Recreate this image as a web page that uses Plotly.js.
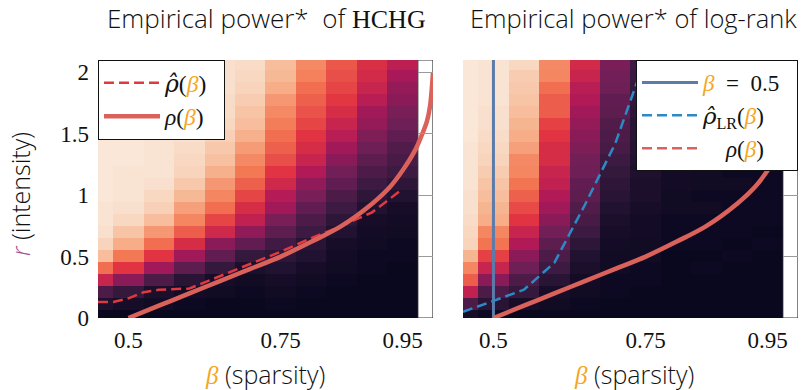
<!DOCTYPE html>
<html>
<head>
<meta charset="utf-8">
<script src="https://cdn.plot.ly/plotly-3.0.1.min.js"></script>
<style>html,body{margin:0;padding:0;background:#fff;}#chart{width:804px;height:390px;}</style>
</head>
<body>
<div id="chart"></div>
<script>
// ---- data ----
var betaCols = [0.45, 0.5, 0.55, 0.6, 0.65, 0.7, 0.75, 0.8, 0.85, 0.9, 0.95];
var rRows = [0.02, 0.1175, 0.215, 0.3125, 0.41, 0.5075, 0.605, 0.7025, 0.8, 0.8975, 0.995,
             1.0925, 1.19, 1.2875, 1.385, 1.4825, 1.58, 1.6775, 1.775, 1.8725, 1.97, 2.0675];

// empirical power, one array per beta column (bottom row first)
var hchgPower = [
  [0.02,0.08,0.20,0.50,0.70,0.88,0.94,0.97,0.98,0.98,0.99,0.99,0.99,0.99,0.99,0.99,0.99,0.99,0.99,0.99,0.99,0.99],
  [0.02,0.06,0.14,0.35,0.57,0.72,0.84,0.90,0.95,0.97,0.98,0.98,0.98,0.99,0.99,0.99,0.99,0.99,0.99,0.99,0.99,0.99],
  [0.02,0.04,0.07,0.20,0.40,0.57,0.70,0.79,0.88,0.93,0.95,0.97,0.98,0.98,0.98,0.98,0.99,0.99,0.99,0.99,0.99,0.99],
  [0.02,0.03,0.05,0.11,0.24,0.40,0.54,0.66,0.75,0.81,0.87,0.91,0.94,0.95,0.96,0.97,0.97,0.97,0.98,0.98,0.98,0.98],
  [0.02,0.02,0.04,0.06,0.14,0.25,0.35,0.52,0.61,0.70,0.75,0.79,0.85,0.89,0.91,0.93,0.95,0.96,0.96,0.97,0.97,0.97],
  [0.02,0.02,0.03,0.04,0.07,0.14,0.25,0.36,0.48,0.54,0.61,0.67,0.72,0.76,0.80,0.85,0.88,0.90,0.92,0.94,0.95,0.96],
  [0.02,0.03,0.04,0.06,0.09,0.12,0.17,0.24,0.31,0.40,0.45,0.52,0.57,0.63,0.67,0.70,0.73,0.76,0.79,0.84,0.87,0.88],
  [0.02,0.02,0.03,0.04,0.06,0.09,0.11,0.16,0.20,0.25,0.31,0.36,0.44,0.50,0.54,0.57,0.61,0.64,0.67,0.70,0.74,0.76],
  [0.02,0.02,0.02,0.03,0.04,0.05,0.06,0.09,0.12,0.16,0.20,0.25,0.29,0.35,0.40,0.46,0.50,0.54,0.58,0.61,0.63,0.65],
  [0.02,0.02,0.02,0.02,0.03,0.03,0.04,0.05,0.06,0.09,0.12,0.16,0.20,0.24,0.28,0.32,0.37,0.40,0.46,0.50,0.53,0.55],
  [0.02,0.02,0.02,0.02,0.02,0.03,0.03,0.04,0.05,0.06,0.09,0.12,0.16,0.19,0.21,0.25,0.28,0.31,0.35,0.37,0.42,0.47]
];
var logrankPower = [
  [0.06,0.20,0.48,0.66,0.75,0.86,0.94,0.95,0.96,0.97,0.97,0.98,0.98,0.98,0.98,0.99,0.99,0.99,0.99,0.99,0.99,0.99],
  [0.03,0.11,0.20,0.35,0.50,0.60,0.71,0.75,0.84,0.86,0.88,0.90,0.92,0.94,0.95,0.96,0.97,0.97,0.98,0.98,0.98,0.98],
  [0.02,0.06,0.14,0.20,0.28,0.35,0.44,0.50,0.57,0.62,0.67,0.71,0.75,0.76,0.81,0.84,0.86,0.88,0.90,0.91,0.92,0.95],
  [0.02,0.04,0.06,0.11,0.16,0.20,0.24,0.29,0.35,0.40,0.44,0.48,0.50,0.54,0.54,0.57,0.60,0.66,0.66,0.70,0.75,0.76],
  [0.02,0.03,0.04,0.05,0.07,0.09,0.12,0.16,0.19,0.21,0.24,0.25,0.28,0.29,0.32,0.35,0.37,0.40,0.44,0.46,0.50,0.53],
  [0.02,0.02,0.03,0.03,0.04,0.04,0.05,0.06,0.07,0.09,0.11,0.12,0.14,0.16,0.19,0.20,0.21,0.24,0.25,0.28,0.29,0.31],
  [0.02,0.02,0.02,0.03,0.03,0.04,0.04,0.05,0.05,0.06,0.07,0.07,0.08,0.09,0.10,0.11,0.11,0.12,0.13,0.14,0.15,0.16],
  [0.02,0.02,0.02,0.02,0.02,0.02,0.03,0.03,0.03,0.04,0.04,0.05,0.05,0.06,0.06,0.07,0.07,0.08,0.08,0.09,0.10,0.10],
  [0.02,0.02,0.02,0.02,0.03,0.02,0.03,0.03,0.03,0.04,0.03,0.04,0.04,0.05,0.04,0.05,0.05,0.06,0.05,0.06,0.06,0.06],
  [0.02,0.02,0.02,0.02,0.02,0.03,0.02,0.03,0.03,0.03,0.03,0.04,0.03,0.04,0.04,0.04,0.04,0.05,0.05,0.05,0.05,0.05],
  [0.02,0.02,0.02,0.02,0.02,0.02,0.03,0.02,0.03,0.03,0.03,0.03,0.03,0.04,0.03,0.04,0.04,0.04,0.04,0.05,0.05,0.05]
];

// boundary curves
var rhoBeta = [0.5, 0.55, 0.6, 0.65, 0.7, 0.75, 0.8, 0.85, 0.9, 0.93, 0.95, 0.97, 0.98, 0.99, 0.995, 1.0];
var rhoR    = [0.0, 0.1, 0.2, 0.3, 0.4, 0.5, 0.62, 0.75, 0.93, 1.07, 1.2, 1.36, 1.47, 1.6, 1.72, 2.0];
var rhoHatBeta = [0.45, 0.475, 0.5, 0.525, 0.55, 0.6, 0.65, 0.7, 0.75, 0.8, 0.85, 0.9, 0.95];
var rhoHatR    = [0.13, 0.13, 0.16, 0.21, 0.23, 0.24, 0.34, 0.44, 0.54, 0.65, 0.75, 0.86, 1.05];
var rhoLRBeta = [0.45, 0.5, 0.55, 0.6, 0.65, 0.7, 0.75];
var rhoLRR    = [0.05, 0.14, 0.23, 0.45, 0.92, 1.42, 2.12];
var betaHalfX = [0.5, 0.5];
var betaHalfY = [0, 2.1];

var xTickVals = [0.5, 0.75, 0.95];
var xTickText = ['0.5', '0.75', '0.95'];
var yTickVals = [0, 0.5, 1, 1.5, 2];
var yTickText = ['0', '0.5', '1', '1.5', '2'];

// ---- styling ----
var ORANGE = '#f5a623';
var MAUVE = '#a3508e';
var SERIF = 'Liberation Serif, DejaVu Serif, serif';
var SANS = 'Open Sans, Roboto, sans-serif';
var rocket = [[0,'#03051a'],[0.143,'#35193e'],[0.286,'#701f57'],[0.429,'#ad1759'],
              [0.571,'#e13342'],[0.714,'#f37651'],[0.857,'#f6b48f'],[1,'#faebdd']];

function transpose(cols){
  var out = [];
  for (var i = 0; i < cols[0].length; i++){
    var row = [];
    for (var j = 0; j < cols.length; j++) row.push(cols[j][i]);
    out.push(row);
  }
  return out;
}
var B = '<span style="color:' + ORANGE + '"><i>β</i></span>';
var RHOHAT = '<span style="font-family:DejaVu Serif"><i>ρ\u0302</i></span>';
var EN = '\u2002';

var traces = [
  {type:'heatmap', x: betaCols, y: rRows, z: transpose(hchgPower), colorscale: rocket,
   zmin:0, zmax:1, showscale:false, xaxis:'x', yaxis:'y', hoverinfo:'skip'},
  {type:'heatmap', x: betaCols, y: rRows, z: transpose(logrankPower), colorscale: rocket,
   zmin:0, zmax:1, showscale:false, xaxis:'x2', yaxis:'y2', hoverinfo:'skip'},
  // left panel
  {type:'scatter', mode:'lines', x: rhoHatBeta, y: rhoHatR, xaxis:'x', yaxis:'y',
   line:{color:'#e0393f', width:2.5, dash:'10px,5px'}, name: RHOHAT + '(' + B + ')' + EN, legend:'legend'},
  {type:'scatter', mode:'lines', x: rhoBeta, y: rhoR, xaxis:'x', yaxis:'y',
   line:{color:'#da625b', width:4.5, shape:'spline'}, name:'<i>ρ</i>(' + B + ')' + EN, legend:'legend'},
  // right panel
  {type:'scatter', mode:'lines', x: betaHalfX, y: betaHalfY, xaxis:'x2', yaxis:'y2',
   line:{color:'#5b7cab', width:3}, name: B + EN + '=' + EN + '0.5' + EN, legend:'legend2'},
  {type:'scatter', mode:'lines', x: rhoLRBeta, y: rhoLRR, xaxis:'x2', yaxis:'y2',
   line:{color:'#2e8ac6', width:2.5, dash:'10px,5px'}, name: RHOHAT + '<sub>LR</sub>(' + B + ')', legend:'legend2'},
  {type:'scatter', mode:'lines', x: rhoBeta, y: rhoR, xaxis:'x2', yaxis:'y2',
   line:{color:'#da625b', width:4.5, shape:'spline'}, showlegend:false},
  {type:'scatter', mode:'lines', x:[null], y:[null], xaxis:'x2', yaxis:'y2',
   line:{color:'#da625b', width:2.5, dash:'10px,5px'}, name: EN + EN + '<i>ρ</i>(' + B + ')', legend:'legend2'},
  // anchors for the right-side tick axes
  {type:'scatter', mode:'lines', x:[null], y:[null], xaxis:'x', yaxis:'y3', showlegend:false, hoverinfo:'skip'},
  {type:'scatter', mode:'lines', x:[null], y:[null], xaxis:'x2', yaxis:'y4', showlegend:false, hoverinfo:'skip'}
];

var xAxisBase = {range:[0.45, 1.0], tickvals: xTickVals, ticktext: xTickText, ticks:'',
  showgrid:false, zeroline:false, showline:false, ticklabelstandoff: 6,
  tickfont:{family:SERIF, size:23, color:'#111'}, fixedrange:true};
var yAxisBase = {range:[0, 2.1], tickvals: yTickVals, ticktext: yTickText, ticks:'',
  showgrid:false, zeroline:false, showline:false, ticklabelstandoff: 8,
  tickfont:{family:SERIF, size:23, color:'#111'}, fixedrange:true};
var yTickRight = {range:[0, 2.1], tickvals: yTickVals, ticks:'inside', ticklen:15, tickwidth:1,
  tickcolor:'#9a9a9a', showticklabels:false, showgrid:false, zeroline:false, showline:false,
  side:'right', fixedrange:true};

var dTop = 1 - 60/390, dBot = 72/390;
var legendBase = {y:dTop, yanchor:'top', bgcolor:'#fff', bordercolor:'#111', borderwidth:1,
  font:{family:SERIF, size:23.5, color:'#111'}, traceorder:'normal', tracegroupgap:0, itemwidth:56};
var layout = {
  width:804, height:390, margin:{l:0, r:0, t:0, b:0},
  paper_bgcolor:'#fff', plot_bgcolor:'#fff', showlegend:true,
  xaxis: Object.assign({}, xAxisBase, {domain:[98/804, 433/804], anchor:'y'}),
  yaxis: Object.assign({}, yAxisBase, {domain:[dBot, dTop], anchor:'x'}),
  xaxis2: Object.assign({}, xAxisBase, {domain:[463/804, 798/804], anchor:'y2'}),
  yaxis2: Object.assign({}, yAxisBase, {domain:[dBot, dTop], anchor:'x2', showticklabels:false}),
  yaxis3: Object.assign({}, yTickRight, {overlaying:'y', anchor:'x'}),
  yaxis4: Object.assign({}, yTickRight, {overlaying:'y2', anchor:'x2'}),
  legend: Object.assign({}, legendBase, {x:98/804, xanchor:'left'}),
  legend2: Object.assign({}, legendBase, {x:798/804, xanchor:'right', font:{family:SERIF, size:23, color:'#111'}}),
  shapes: [
    {type:'rect', xref:'x', yref:'y', x0:0.975, x1:1.0, y0:0, y1:2.1, layer:'below',
     line:{color:'#333', width:1.2}, fillcolor:'rgba(0,0,0,0)'},
    {type:'rect', xref:'x2', yref:'y2', x0:0.975, x1:1.0, y0:0, y1:2.1, layer:'below',
     line:{color:'#333', width:1.2}, fillcolor:'rgba(0,0,0,0)'}
  ],
  annotations: [
    {text:'Empirical power*  of <span style="font-family:' + SERIF + '">HCHG</span>', xref:'paper', yref:'paper',
     x:266/804, y:1 - 18/390, xanchor:'center', yanchor:'middle', showarrow:false,
     font:{family:SANS, size:26, color:'#111', weight:300}},
    {text:'Empirical power* of log-rank', xref:'paper', yref:'paper',
     x:633/804, y:1 - 18/390, xanchor:'center', yanchor:'middle', showarrow:false,
     font:{family:SANS, size:25.5, color:'#111', weight:300}},
    {text:'<span style="font-family:' + SERIF + ';color:' + ORANGE + '"><i>β</i></span> (sparsity)', xref:'paper', yref:'paper',
     x:265/804, y:1 - 374/390, xanchor:'center', yanchor:'middle', showarrow:false,
     font:{family:SANS, size:25, color:'#111', weight:300}},
    {text:'<span style="font-family:' + SERIF + ';color:' + ORANGE + '"><i>β</i></span> (sparsity)', xref:'paper', yref:'paper',
     x:634/804, y:1 - 374/390, xanchor:'center', yanchor:'middle', showarrow:false,
     font:{family:SANS, size:25, color:'#111', weight:300}},
    {text:'<span style="color:' + MAUVE + '"><i>r</i></span> (intensity)', xref:'paper', yref:'paper',
     x:20/804, y:1 - 194/390, xanchor:'center', yanchor:'middle', textangle:-90, showarrow:false,
     font:{family:SANS, size:25, color:'#111', weight:300}}
  ]
};

Plotly.newPlot('chart', traces, layout, {displayModeBar:false, staticPlot:true});
</script>
</body>
</html>
